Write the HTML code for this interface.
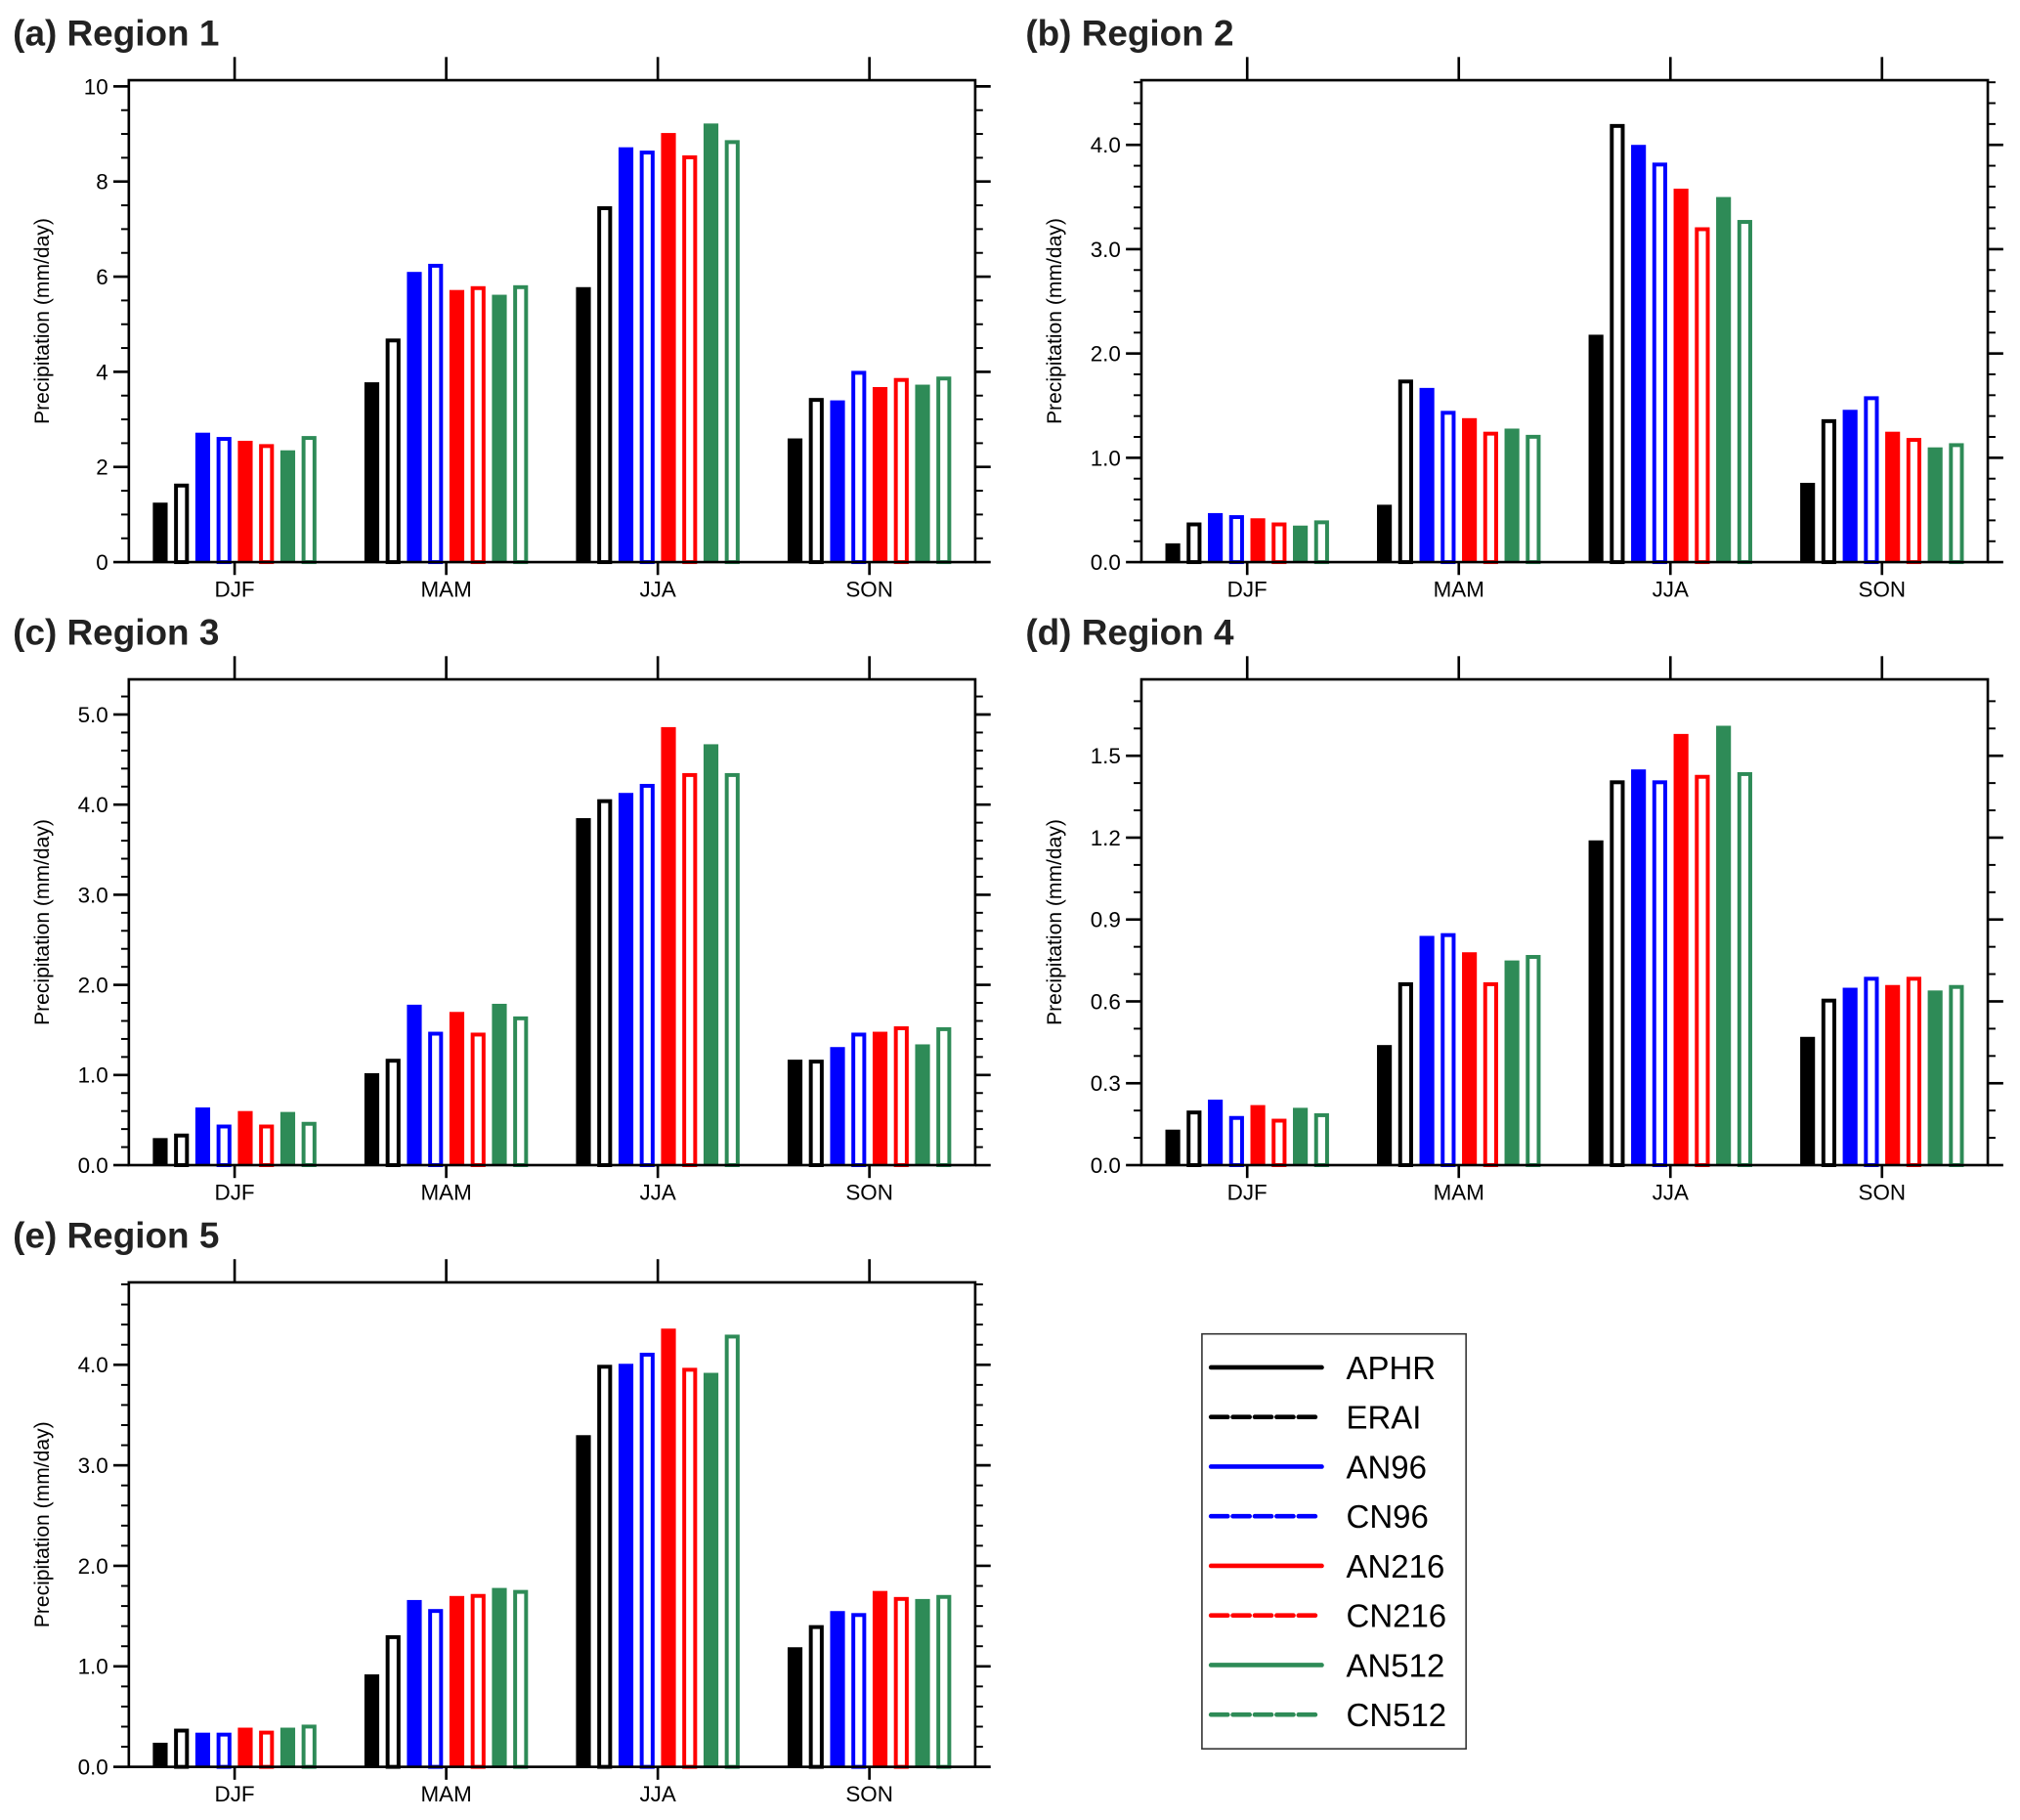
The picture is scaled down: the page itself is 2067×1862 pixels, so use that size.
<!DOCTYPE html>
<html><head><meta charset="utf-8"><style>
html,body{margin:0;padding:0;background:#fff}
svg{display:block}
text{font-family:"Liberation Sans",sans-serif}
</style></head><body>
<svg id="chart" width="2067" height="1862" viewBox="0 0 1568 1412" xmlns="http://www.w3.org/2000/svg"></svg>
<script>
const categories = ["DJF","MAM","JJA","SON"];
const seriesNames = ["APHR","ERAI","AN96","CN96","AN216","CN216","AN512","CN512"];
const seriesColors = ["#000000","#000000","#0000ff","#0000ff","#ff0000","#ff0000","#2e8b57","#2e8b57"];
const seriesHollow = [false,true,false,true,false,true,false,true];
const region1Values = [[1.25,1.65,2.72,2.63,2.55,2.48,2.35,2.65],[3.78,4.7,6.1,6.27,5.72,5.8,5.62,5.82],[5.78,7.48,8.72,8.65,9.02,8.55,9.22,8.87],[2.6,3.45,3.4,4.02,3.68,3.87,3.73,3.9]];
const region2Values = [[0.18,0.38,0.47,0.45,0.42,0.38,0.35,0.4],[0.55,1.75,1.67,1.45,1.38,1.25,1.28,1.22],[2.18,4.2,4.0,3.83,3.58,3.21,3.5,3.28],[0.76,1.37,1.46,1.59,1.25,1.19,1.1,1.14]];
const region3Values = [[0.3,0.35,0.64,0.45,0.6,0.45,0.59,0.48],[1.02,1.18,1.78,1.48,1.7,1.47,1.79,1.65],[3.85,4.06,4.13,4.23,4.86,4.35,4.67,4.35],[1.17,1.17,1.31,1.47,1.48,1.54,1.34,1.53]];
const region4Values = [[0.13,0.2,0.24,0.18,0.22,0.17,0.21,0.19],[0.44,0.67,0.84,0.85,0.78,0.67,0.75,0.77],[1.19,1.41,1.45,1.41,1.58,1.43,1.61,1.44],[0.47,0.61,0.65,0.69,0.66,0.69,0.64,0.66]];
const region5Values = [[0.24,0.38,0.34,0.34,0.39,0.36,0.39,0.42],[0.92,1.31,1.66,1.57,1.7,1.72,1.78,1.76],[3.3,4.0,4.01,4.12,4.36,3.97,3.92,4.3],[1.19,1.41,1.55,1.53,1.75,1.69,1.67,1.71]];
const region1Ticks = [0,2,4,6,8,10];
const region2Ticks = [0,1,2,3,4];
const region3Ticks = [0,1,2,3,4,5];
const region4Ticks = [0,0.3,0.6,0.9,1.2,1.5];
const region5Ticks = [0,1,2,3,4];
const panelTitles = ["(a)  Region 1","(b)  Region 2","(c)  Region 3","(d)  Region 4","(e)  Region 5"];
const panelYMax = [10.13,4.62,5.39,1.78,4.82];
const panelMinorStep = [0.5,0.2,0.2,0.1,0.2];
const panelDecimals = [0,1,1,1,1];

const NS="http://www.w3.org/2000/svg";
const svg=document.getElementById('chart');
function mk(tag,attrs,parent){const e=document.createElementNS(NS,tag);for(const k in attrs)e.setAttribute(k,attrs[k]);(parent||svg).appendChild(e);return e;}

const layouts=[{l:100,r:757,t:62,b:436},{l:886,r:1543,t:62,b:436},{l:100,r:757,t:527,b:904},{l:886,r:1543,t:527,b:904},{l:100,r:757,t:995,b:1371}];
const allValues=[region1Values,region2Values,region3Values,region4Values,region5Values];
const allTicks=[region1Ticks,region2Ticks,region3Ticks,region4Ticks,region5Ticks];

layouts.forEach((L,p)=>{
  const g=mk('g',{});
  
  
  const ymax=panelYMax[p];
  const y=v=>L.b-(v/ymax)*(L.b-L.t);
  const slot=(L.r-L.l)/categories.length;
  const xc=i=>L.l+slot*(i+0.5);
  const title=mk('text',{x:L.l-90,y:L.t-27,'font-size':28,'font-weight':'bold',fill:'#222'},g);
  title.textContent=panelTitles[p];
  
  
  const pitch=16.5,bw=11.5;
  allValues[p].forEach((vals,ci)=>{
    vals.forEach((v,si)=>{
      const x0=xc(ci)-pitch*4+si*pitch+(pitch-bw)/2;
      let r;
      if(seriesHollow[si]){
        r=mk('rect',{x:x0+1.5,y:y(v)+1.5,width:bw-3,height:L.b-y(v)-1.5,fill:'#fff',stroke:seriesColors[si],'stroke-width':3},g);
      } else {
        r=mk('rect',{x:x0,y:y(v),width:bw,height:L.b-y(v),fill:seriesColors[si]},g);
      }
      
      
    });
    const lab=mk('text',{x:xc(ci),y:L.b+27,'font-size':17,'text-anchor':'middle',fill:'#000'},g);
    lab.textContent=categories[ci];
    
    
    mk('line',{x1:xc(ci),x2:xc(ci),y1:L.t,y2:L.t-18,stroke:'#000','stroke-width':2},g);
    mk('line',{x1:xc(ci),x2:xc(ci),y1:L.b,y2:L.b+10,stroke:'#000','stroke-width':2},g);
  });
  const frame=mk('rect',{x:L.l,y:L.t,width:L.r-L.l,height:L.b-L.t,fill:'none',stroke:'#000','stroke-width':2},g);
  
  
  const ms=panelMinorStep[p];
  for(let k=0;k*ms<=ymax+1e-9;k++){
    const yy=y(k*ms);
    mk('line',{x1:L.l,x2:L.l-6,y1:yy,y2:yy,stroke:'#000','stroke-width':1.5},g);
    mk('line',{x1:L.r,x2:L.r+6,y1:yy,y2:yy,stroke:'#000','stroke-width':1.5},g);
  }
  allTicks[p].forEach(t=>{
    const yy=y(t);
    mk('line',{x1:L.l,x2:L.l-12,y1:yy,y2:yy,stroke:'#000','stroke-width':2},g);
    mk('line',{x1:L.r,x2:L.r+12,y1:yy,y2:yy,stroke:'#000','stroke-width':2},g);
    const tl=mk('text',{x:L.l-16,y:yy+6,'font-size':17,'text-anchor':'end',fill:'#000'},g);
    tl.textContent=t.toFixed(panelDecimals[p]);
    
    
  });
  const cy=(L.t+L.b)/2, cx=L.l-62;
  const yt=mk('text',{x:cx,y:cy,'font-size':16,'text-anchor':'middle',transform:`rotate(-90 ${cx} ${cy})`,fill:'#000'},g);
  yt.textContent='Precipitation (mm/day)';
  
  
});

const lg=mk('g',{});


mk('rect',{x:933,y:1035,width:205,height:322,fill:'#fff',stroke:'#333','stroke-width':1.2},lg);
seriesNames.forEach((n,i)=>{
  const yy=1061+i*38.5;
  const ln=mk('line',{x1:940,x2:1026,y1:yy,y2:yy,stroke:seriesColors[i],'stroke-width':3.5,'stroke-linecap':'round'},lg);
  if(seriesHollow[i]){ln.setAttribute('stroke-dasharray','13 4');ln.setAttribute('x2','1023');}
  
  
  const t=mk('text',{x:1045,y:yy+9,'font-size':25,fill:'#000'},lg);
  t.textContent=n;
  
  
});
</script>
</body></html>
